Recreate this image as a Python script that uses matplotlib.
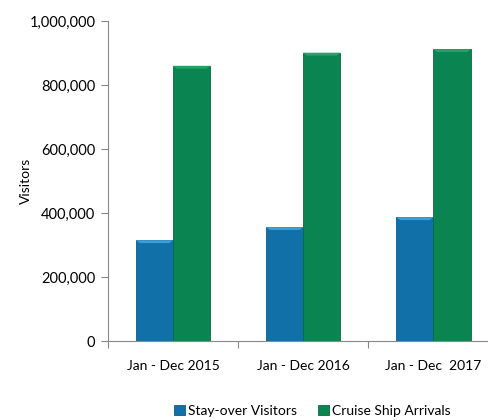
import matplotlib.pyplot as plt
from matplotlib.patches import Polygon
from matplotlib.ticker import FuncFormatter, FixedLocator

periods = ["Jan - Dec 2015", "Jan - Dec 2016", "Jan - Dec  2017"]
stay_over = [315000, 356000, 387000]
cruise = [860000, 901000, 912000]
series_names = ["Stay-over Visitors", "Cruise Ship Arrivals"]

plt.rcParams['font.family'] = ['Lato', 'DejaVu Sans']

fig = plt.figure(figsize=(4.88, 4.2), dpi=100)
ax = fig.add_axes([0.2213, 0.188, 0.779, 0.762])

width = 0.285
x = list(range(len(periods)))
blue = "#1170a8"
green = "#0a8552"
bars_a = ax.bar([i - width / 2 for i in x], stay_over, width, color=blue,
                edgecolor="#0c5a88", linewidth=0.6, label=series_names[0], zorder=2)
bars_b = ax.bar([i + width / 2 for i in x], cruise, width, color=green,
                edgecolor="#076a40", linewidth=0.6, label=series_names[1], zorder=2)

# thin bevel on the top of each bar
for bars, light in ((bars_a, "#3c9ed6"), (bars_b, "#2aa068")):
    for b in bars:
        x0, w, h = b.get_x(), b.get_width(), b.get_height()
        bev = Polygon([(x0, h), (x0 + w, h), (x0 + w * 0.9, h - 9000),
                       (x0 + w * 0.1, h - 9000)], closed=True,
                      facecolor=light, edgecolor="none", zorder=3)
        ax.add_patch(bev)

ax.set_ylim(0, 1000000)
ax.set_xlim(-0.5, 2.42)
ax.set_yticks(range(0, 1000001, 200000))
ax.yaxis.set_major_formatter(FuncFormatter(lambda v, p: f"{int(v):,}"))
ax.set_xticks(x)
ax.set_xticklabels(periods, fontsize=10)
ax.xaxis.set_minor_locator(FixedLocator([-0.5, 0.5, 1.5]))
ax.tick_params(axis='x', which='major', length=0, pad=14)
ax.tick_params(axis='x', which='minor', length=5, color="#888888", width=0.8)
ax.tick_params(axis='y', length=5, color="#888888", width=0.8, labelsize=10.5, pad=4)

for side in ("top", "right"):
    ax.spines[side].set_visible(False)
for side in ("left", "bottom"):
    ax.spines[side].set_color("#888888")
    ax.spines[side].set_linewidth(0.8)

ax.set_ylabel("Visitors", fontsize=10)
ax.yaxis.set_label_coords(-0.2, 0.5)

fig.legend(handles=[bars_a, bars_b], labels=series_names, loc="center",
           bbox_to_anchor=(0.64, 0.022), ncol=2, frameon=False, fontsize=10,
           handlelength=0.8, handleheight=0.8, handletextpad=0.2, columnspacing=1.5)

fig.savefig("out.png", dpi=100)
